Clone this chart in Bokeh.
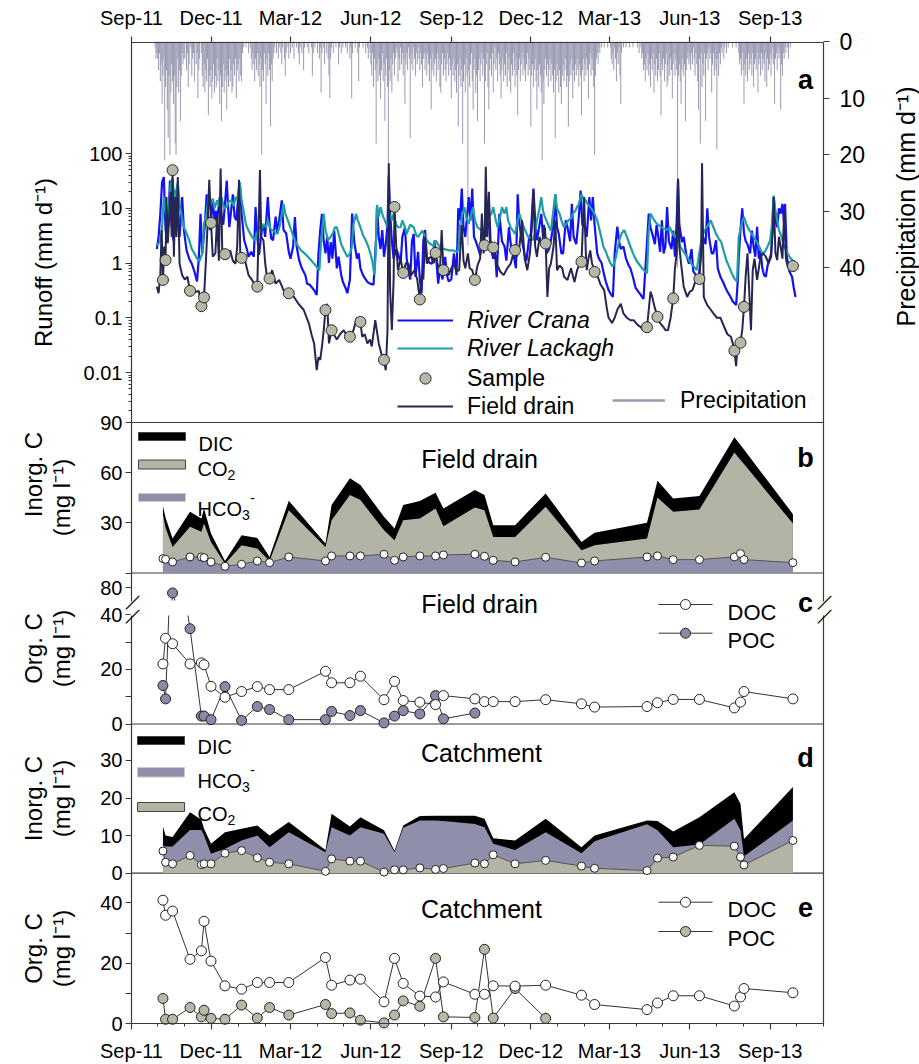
import numpy as np
import pandas as pd
from bokeh.plotting import figure
from bokeh.models import (Range1d, LinearAxis, LogAxis, DatetimeAxis, FixedTicker,
                          DatetimeTickFormatter, CustomJSTickFormatter, LinearScale, LogScale,
                          Legend, LegendItem, Label)
from bokeh.embed import file_html
from bokeh.resources import INLINE

# ======================= DATA =======================
start_date = "2011-09-01"
end_date = "2013-11-01"
quarter_ticks = ["2011-09-01", "2011-12-01", "2012-03-01", "2012-06-01", "2012-09-01",
                 "2012-12-01", "2013-03-01", "2013-06-01", "2013-09-01"]

# daily precipitation (mm d-1) starting 2011-09-01
precip_mm = (
    [0,0,0,0,0,0,0,0,0,0, 0,0,0,0,0,0,0,0,0,0, 0,0,0,0,0,0,0,1,3,2]              # Sep-11
    + [3,5,2,7,4,11,6,3,21,8, 5,12,17,6,20,9,4,7,11,6, 18,20,8,3,9,5,14,6,2,4, 3]  # Oct-11
    + [3,0,5,2,8,4,0,1,6,3, 2,7,0,4,2,10,5,3,0,2, 6,8,4,9,5,7,3,13,6,8]          # Nov-11
    + [5,10,7,4,9,6,8,3,7,5, 11,6,14,8,4,9,7,5,12,6, 8,3,7,5,9,8,4,6,3,10, 5]    # Dec-11
    + [4,7,3,6,7,2,1,0,0,1, 0,0,2,0,1,3,5,2,4,7, 3,5,2,6,4,8,3,20,5,7, 2]        # Jan-12
    + [4,11,3,6,2,5,15,4,7,3, 2,1,0,2,0,3,1,0,2,4, 1,0,3,6,2,0,1,3,0]            # Feb-12
    + [2,0,1,0,3,0,0,1,0,2, 4,1,0,2,0,5,1,0,0,1, 0,2,0,0,1,6,2,0,1,0, 0]         # Mar-12
    + [2,0,3,1,9,2,0,1,4,0, 2,0,3,6,10,3,1,0,2,0, 0,1,0,0,4,1,0,2,0,1]           # Apr-12
    + [0,0,1,0,2,0,0,3,1,10, 2,0,0,1,0,0,2,7,1,0, 0,0,1,0,0,2,0,1,3,0, 2]        # May-12
    + [4,6,2,8,3,5,18,4,7,3, 6,10,5,2,7,4,14,6,3,8, 42,5,7,3,9,4,2,6,3,1]        # Jun-12
    + [2,7,3,5,1,4,2,6,3,11, 4,2,5,1,3,17,4,2,5,1, 3,6,2,4,1,3,5,2,4,8, 3]       # Jul-12
    + [2,5,3,6,2,4,7,3,12,5, 2,6,4,3,7,2,5,3,8,9, 4,2,6,3,5,7,4,2,6,3, 5]        # Aug-12
    + [10,4,6,3,7,5,9,4,15,6, 3,8,5,18,7,4,9,3,6,36, 5,8,4,2,7,12,5,3,9,6]       # Sep-12
    + [14,5,3,7,4,2,6,3,18,7, 4,2,8,12,5,3,6,2,9,4, 1,5,3,7,2,4,6,10,5,3, 7]     # Oct-12
    + [4,6,2,8,5,3,7,9,4,6, 2,5,8,3,6,13,5,3,7,4, 2,6,3,5,7,4,2,6,3,5]           # Nov-12
    + [15,6,4,8,5,3,7,12,5,8, 4,6,9,21,7,11,5,3,6,4, 8,5,3,7,4,6,9,5,17,7, 4]    # Dec-12
    + [6,9,5,8,11,6,4,7,5,3, 8,6,15,7,4,6,3,10,5,7, 4,6,3,5,8,4,6,13,5,3, 7]     # Jan-13
    + [4,6,3,5,10,4,2,6,3,5, 8,20,6,3,2,4,1,2,0,1, 0,0,1,0,0,0,1,0]              # Feb-13
    + [0,1,3,4,2,5,1,3,7,2, 4,1,6,11,2,0,1,0,0,1, 0,0,0,1,0,0,0,1,0,0, 0]        # Mar-13
    + [0,1,0,2,0,1,3,2,5,4, 7,3,5,2,6,4,8,3,5,2, 9,4,6,3,7,5,2,6,13,4]           # Apr-13
    + [5,3,7,4,2,8,7,4,6,3, 5,10,4,2,6,3,5,40,6,4, 7,11,5,3,6,4,14,5,3,2, 4]     # May-13
    + [3,5,2,4,1,3,6,2,4,7, 12,3,18,2,8,4,6,2,14,3, 2,5,1,3,2,9,4,2,6,3]         # Jun-13
    + [5,19,3,6,2,4,1,2,0,3, 1,0,2,0,1,0,0,0,0,1, 0,0,0,1,0,0,2,4,3,6, 2]        # Jul-13
    + [5,11,4,6,3,7,2,5,4,3, 6,2,8,4,3,5,2,9,4,3, 6,2,5,3,4,7,2,8,3,5, 4]        # Aug-13
    + [2,6,3,1,4,11,3,2,5,1, 3,2,12,4,6,2,3,1,2,0, 1,3,0,1,0,0,0,0,0,0]          # Sep-13
)

# runoff (mm d-1): (day since 2011-09-01, value)
crana_pts = [(29,1.8),(31,3),(33,8),(35,30),(37,37),(39,4),(41,2.5),(43,12),(44,32),(46,5),(48,2.6),(50,21),(52,8),(55,3),(58,16),(60,4),(63,1.7),(66,1.2),(69,0.97),(72,0.7),(75,0.46),(77,1.2),(79,7.9),(81,1.5),(84,5),(86,18),(88,6),(90,4),(93,14),(95,6),(97,9),(98,6),(101,16),(103,7),(105,5),(107,12),(109,32),(111,8),(112,4.5),(114,9),(116,18),(118,7),(120,6),(122,15),(124,28),(126,8),(129,2.6),(132,1.8),(134,1.3),(137,1.6),(140,1.3),(142,10.5),(144,3),(146,1.4),(149,4),(151,5),(153,3),(156,16),(158,5),(160,2.8),(162,2.6),(165,7),(167,3.5),(170,8),(172,13.9),(174,4),(177,3.5),(180,1.6),(182,1.2),(185,2),(187,6.9),(189,2),(192,1.1),(195,0.8),(199,0.6),(201,0.42),(204,0.4),(207,0.35),(210,0.3),(212,0.26),(214,1.5),(216,4),(218,7.9),(220,2.5),(222,1.5),(224,3),(226,1.0),(228,2.4),(230,1.2),(232,3.9),(235,0.8),(237,1.3),(240,0.6),(242,0.45),(245,0.35),(247,0.28),(250,0.5),(252.5,8),(255,2.4),(258,1.2),(260,1.5),(262,0.8),(265,0.6),(268,0.5),(270,0.45),(273,0.42),(277,0.4),(280,3),(281,10.6),(283,3),(285,1.8),(287,4),(289,1.3),(291,2.2),(293,5),(294.5,40),(296,8),(298,2.5),(300,1.2),(303,1.8),(305,1.5),(308,1.0),(310,3),(313,4.5),(315,1.2),(317,0.7),(319,0.5),(321,2.5),(323,3.4),(325,0.56),(328,1.6),(330,0.5),(332,0.28),(334,2.5),(336,4),(338,1.3),(341,1.0),(344,0.97),(347,2.6),(349,1.1),(351,0.42),(353,0.8),(356,0.5),(359,1.3),(361,0.6),(363,0.46),(366,0.5),(369,1.5),(372,0.6),(374,10),(376,6),(378,23),(380,4.5),(382,3),(384,7),(386,16),(388,6),(390,23),(392,3),(394,2.5),(397,1.8),(399,1.4),(402,2.6),(404,4.5),(406,3),(408,12),(410,3),(411,2),(414,1.2),(416,1.7),(418,0.55),(421,7.9),(424,2.5),(427,2),(429,1.1),(432,4.5),(435,1.6),(437,1.5),(440,0.8),(442,18),(444,5),(447,2.5),(450,1.4),(452,1.1),(455,2.8),(457,3.4),(460,23),(462,6),(464,2.6),(467,5),(469,7.9),(471,3),(473,4.5),(475,1.5),(478,1.8),(480,2.6),(483,5),(485,18),(487,4.5),(489,3.4),(492,1.5),(494,1.5),(497,6),(499,4.5),(502,2.5),(504,12),(506,3),(509,2.2),(512,7),(514,21),(516,5),(519,4.5),(521,3),(524,16),(526,6),(528,16),(530,5),(533,1.5),(535,1.2),(538,1.0),(541,0.6),(543,0.45),(546,0.32),(548,0.28),(551,0.24),(553,1.5),(556,4.6),(558,2.5),(560,1.8),(563,2.0),(566,1.2),(569,0.9),(571,0.8),(574,0.55),(577,0.35),(580,0.3),(583,0.26),(586,0.22),(589,1.3),(592,8),(594,4.5),(597,3),(599,2.2),(601,5),(603,3),(605,1.6),(607,6),(609,1.5),(611,2),(613,10.5),(615,2.5),(618,1.8),(620,3.9),(622,1.3),(624,6),(625.5,33),(627,5),(630,2.4),(632,3),(635,1.4),(638,0.97),(641,1.8),(643,0.7),(646,0.6),(649,0.5),(652,1.5),(654,3),(657,2.2),(659,10),(661,3),(664,1.5),(666,1.5),(669,2.6),(671,0.8),(674,0.56),(677,0.45),(680,0.35),(682,0.3),(685,0.25),(688,0.2),(692,0.17),(694,0.5),(695,1.3),(697,4),(699,10),(701,3.5),(703,2.5),(705,2.2),(708,1.5),(710,3.9),(712,2),(714,1.3),(716,4.6),(718,1.2),(720,1.7),(722,0.8),(724,0.6),(726,0.56),(728,0.9),(730,1.1),(732,1.3),(735,16),(737,6),(739,4.5),(741,10),(743,8),(745,12),(747,5),(748,12),(750,1.3),(753,0.7),(756,0.56),(758,0.35),(760,0.24)]

lackagh_pts = [(29,2.1),(31,2.3),(33,2.5),(35,4.5),(37,16),(39,8),(41,6),(43,10),(45,28),(47,35),(49,14),(51,20),(53,30),(55,12),(57,7.9),(60,4.5),(63,3.5),(66,2.6),(69,1.8),(72,1.5),(75,1.2),(78,1.1),(81,1.5),(83,5.2),(86,8),(88,16),(90,12),(93,14.9),(95,10),(98,13.9),(100,11),(103,16),(106,10),(109,10.5),(111,13),(114,13.9),(117,11),(119,16),(121,14),(124,30),(126,14),(129,7.9),(131,5),(134,3.9),(138,3),(141,2.6),(144,3.5),(146,4.5),(149,4.2),(151,5.2),(154,4.5),(156,6),(159,4.2),(162,3.9),(165,3.6),(167,3.4),(170,5),(172,8),(174,12),(176,8),(179,6),(183,3.9),(187,2.6),(190,2.1),(194,1.7),(198,1.5),(202,1.3),(206,1.1),(209,0.97),(212,0.85),(215,0.73),(217,2.5),(220,7.9),(222,4),(225,2.6),(228,3),(230,3.4),(233,4.5),(235,4.5),(238,3),(240,2.2),(244,1.6),(247,1.3),(250,1.5),(252,1.9),(254,5),(257,7.9),(259,6),(262,4.5),(265,3.2),(268,2.6),(271,2),(274,1.4),(276,1.0),(278,0.6),(279.5,1.5),(281,11.5),(283,7),(285,10.5),(288,7),(290,6),(293,4.5),(295,8),(298,6),(300,7.9),(303,5),(305,4.5),(308,4.5),(310,6),(313,4.5),(315,3.4),(319,5),(323,4.5),(326,3.2),(328,3.0),(331,3.5),(333,3.9),(336,3.0),(338,2.6),(341,2.3),(343,2.2),(346,2.0),(348,2.6),(351,2.2),(353,1.9),(358,1.8),(363,1.7),(368,1.7),(372,1.6),(374,1.7),(376,4.5),(378,7),(381,10.5),(383,7),(386,5.2),(388,7),(391,10.5),(393,6),(396,4.5),(400,4),(404,4.5),(407,5.5),(409,7),(412,8),(414,10.5),(417,6),(419,4.5),(422,7),(424,10.5),(427,8),(429,10.5),(431,6),(434,4.5),(437,3.8),(439,3.4),(442,6),(444,7.9),(447,5.5),(449,4.5),(452,3.5),(454,3.0),(457,2.8),(459,2.6),(462,3.5),(464,6),(467,10),(469,16),(471,9),(473,7),(475,6),(478,4.5),(480,3.9),(482,7),(485,18),(487,10),(490,7.9),(492,6),(495,4.5),(497,5),(500,6),(503,6.5),(505,7.9),(508,9),(510,10.5),(512,12),(515,18),(517,15),(520,13.9),(522,12),(525,10.5),(528,9),(530,7.9),(533,6),(535,4.5),(538,2.8),(540,2.0),(543,1.6),(545,1.3),(548,1.0),(551,0.85),(554,1.2),(558,2.5),(561,3.5),(564,4),(567,3),(570,2.2),(574,1.5),(578,1.1),(582,0.9),(586,0.75),(590,0.65),(592,4),(594,8),(597,6.5),(600,5.5),(603,5),(606,4.5),(610,4.2),(613,4),(616,4.5),(619,3.5),(622,3),(625,3.4),(628,2.0),(632,1.6),(636,1.3),(640,1.0),(644,0.85),(647,0.74),(650,1.6),(653,3),(656,4),(660,5),(663,6),(666,4.5),(669,3.4),(672,2.8),(675,2.4),(678,1.6),(681,1.1),(684,0.85),(687,0.65),(690,0.52),(693,0.46),(695,3),(698,5),(701,7),(704,5),(707,4),(710,3.4),(713,2.8),(716,2.4),(719,1.9),(722,1.5),(725,1.6),(728,2),(731,2.6),(733,5),(735,17),(737,9),(739,6),(741,4),(744,3),(747,2),(750,1.6),(753,1.3),(757,1.1)]

drain_pts = [(29,0.37),(31,0.28),(33,0.6),(34.5,4),(36,0.49),(37.5,2),(39,1.13),(40,16),(41.5,2.3),(43,6),(44.5,20),(46,3),(47,49.6),(48.5,1.3),(50,16),(51.5,3),(53,37),(55,0.97),(58,0.6),(61,0.5),(64,0.56),(67,0.31),(71,0.28),(74,0.3),(77,0.31),(80,0.163),(83,0.235),(85,0.97),(87,4.6),(89,33),(91,5.4),(93,1.3),(96,1.5),(98,7),(100,1.1),(102,53),(104,1.3),(107,1.45),(110,1.2),(113,1.7),(116,1.1),(119,0.97),(121,2),(123,33),(124.5,1.5),(126,1.24),(130,1.1),(134,0.6),(138,0.49),(142,0.37),(144,0.37),(147,50),(148.5,3),(151,2.6),(153,1),(155,0.56),(158,0.52),(161,0.74),(165,0.42),(169,0.49),(174,0.32),(180,0.28),(186,0.24),(191,0.18),(197,0.14),(203,0.079),(206,0.05),(209,0.034),(212,0.011),(214,0.019),(216,0.017),(218,0.03),(220,0.059),(222,0.138),(224,0.18),(226,0.034),(229,0.059),(231,0.051),(235,0.04),(239,0.051),(243,0.059),(247,0.045),(250,0.045),(254,0.059),(258,0.1),(262,0.084),(264,0.045),(267,0.05),(270,0.034),(273,0.04),(275,0.03),(279,0.09),(283,0.034),(287,0.019),(289,0.017),(291,0.011),(293,0.059),(294.5,66),(296,0.3),(298,0.06),(300,0.5),(301,10.6),(303,2),(305,0.74),(308,1.2),(311,0.66),(314,1.0),(317,0.97),(320,0.6),(324,0.74),(327,0.5),(330,0.216),(332,0.6),(334,0.5),(336,3),(338,0.97),(340,1.2),(343,1.3),(346,1.0),(348,1.53),(350,1.0),(353,0.7),(355,4),(357,0.74),(360,0.7),(363,0.6),(366,0.8),(369,0.97),(372,0.7),(375,0.74),(378,5),(380,1.1),(382,0.8),(385,1.5),(387,0.8),(390,0.74),(393,0.49),(396,0.9),(399,1.2),(401,8),(403,1.5),(404,2.1),(405.5,57),(407,3),(409,20),(411,2.5),(414,1.92),(418,0.97),(422,0.7),(426,0.6),(430,0.8),(434,0.97),(437,1.5),(439,1.72),(441,1.3),(444,2),(447,6),(450,1.2),(453,0.74),(456,1.5),(458,4),(460,21),(462,2),(464,1.3),(467,3),(470,2),(472,5),(474,2.27),(476,0.24),(478,0.8),(480,0.97),(483,2),(485,6),(487,0.74),(490,0.9),(493,0.8),(495,0.56),(499,0.49),(503,0.8),(507,0.45),(510,0.74),(513,0.97),(515,1.05),(518,16),(520,1.5),(521,0.74),(523,1.2),(525,1.7),(527,1.0),(530,0.69),(533,0.6),(537,0.4),(541,0.32),(544,0.15),(546,0.1),(550,0.08),(553,0.1),(556,0.14),(560,0.18),(563,0.12),(567,0.1),(571,0.09),(575,0.09),(579,0.075),(583,0.067),(586,0.059),(590,0.067),(592,0.14),(594,0.3),(596,0.24),(599,0.15),(602,0.104),(605,0.08),(608,0.07),(611,0.06),(614,0.059),(617,0.1),(620,0.225),(622,0.8),(624,1.5),(625.5,35),(627,2),(629,0.97),(632,0.37),(636,0.24),(639,0.3),(642,0.32),(646,0.49),(650,0.51),(652,2),(653,66),(655,0.24),(657,0.2),(659,0.17),(663,0.14),(666,0.12),(670,0.1),(674,0.1),(678,0.07),(682,0.05),(686,0.045),(688,0.035),(690,0.025),(692,0.013),(694,0.04),(697,0.035),(699,0.06),(701,0.158),(703,0.6),(705,1.5),(707,0.3),(709,0.059),(711,0.74),(713,1.2),(716,0.49),(718,0.8),(720,1.3),(723,1.5),(726,1.3),(729,1.0),(732,1.5),(734,4),(735,16),(737,1.5),(739,1.13),(741,3),(743,1.97),(745,1.2),(747,9),(749,1.2),(751,0.85),(754,0.74),(757,0.88)]

# sampling campaign
sample_dates = ["2011-10-07","2011-10-10","2011-10-18","2011-11-07","2011-11-20","2011-11-23",
                "2011-12-01","2011-12-17","2012-01-05","2012-01-23","2012-02-06","2012-02-28",
                "2012-04-10","2012-04-17","2012-05-08","2012-05-20","2012-06-16","2012-06-28",
                "2012-07-08","2012-07-27","2012-08-14","2012-08-23","2012-09-28","2012-10-09",
                "2012-10-19","2012-11-13","2012-12-18","2013-01-28","2013-02-12","2013-04-13",
                "2013-04-25","2013-05-13","2013-06-12","2013-07-22","2013-07-29","2013-08-02",
                "2013-09-27"]
sample_runoff = [0.49,1.13,49.6,0.31,0.163,0.235,5.4,1.45,1.24,0.37,0.52,0.28,0.138,0.059,0.045,
                 0.084,0.017,10.6,0.66,0.216,1.53,0.74,0.49,2.1,1.92,1.72,2.27,1.05,0.69,0.067,
                 0.104,0.225,0.51,0.025,0.035,0.158,0.88]

# (b) field drain inorganic C (mg l-1)
fd_hco3 = [8.6,8.2,6.6,9.6,9.6,9.2,6.6,4.0,5.2,7.2,6.2,9.6,7.2,10.2,10.2,10.2,11.2,7.6,9.6,10.2,
           10.2,10.8,11.2,10.0,7.6,6.6,9.4,6.0,7.2,9.6,10.2,8.0,8.0,9.6,11.6,8.0,6.2]
fd_co2 = [26.4,18.8,9.0,18.0,15.0,20.4,12.0,1.6,11.4,7.4,1.0,28.0,8.4,21.4,36.4,33.4,14.4,12.0,22.0,
          22.4,28.4,17.2,28.0,27.6,14.0,15.0,30.2,7.6,9.4,11.0,35.0,28.6,30.0,62.4,56.0,57.2,23.4]
fd_dic = [40,33,20.6,36.6,32.6,38.6,23.6,7.2,22.6,21,9.5,43.2,17.6,40.6,56.6,52.6,33.6,26.6,40.6,43,
          48,38.6,49.6,46.6,28.6,28.6,47.6,18.6,24,30,55.2,44.6,46,81.2,76.5,73.8,35.2]

# (c) field drain organic C (mg l-1)
fd_doc = [22.0,31.4,29.4,22.0,22.4,21.7,13.8,9.8,11.9,13.7,12.6,12.6,19.3,15.1,15.1,17.5,8.9,15.6,
          8.6,8.0,7.1,10.4,9.2,8.2,8.2,8.2,8.9,7.4,6.2,6.4,7.8,9.0,9.0,5.9,8.0,11.9,9.2]
fd_poc = [14.1,9.2,76,34.9,2.9,2.9,1.6,13.7,1.3,6.4,5.3,1.6,1.6,4.6,3.1,4.9,0.4,2.9,4.9,3.7,10.4,1.9,4.0]

# (d) catchment inorganic C (mg l-1)
c_co2 = [5.9,2.9,2.5,4.7,2.3,2.5,2.5,5.3,6.0,4.1,2.9,2.5,0.5,3.8,3.2,3.2,0.3,0.9,0.9,1.4,1.0,1.25,
         2.7,2.5,4.9,2.5,3.4,1.9,1.3,0.7,4.0,4.3,7.4,7.2,4.3,2.2,8.7]
c_hco3 = [1.5,4.2,4.6,6.8,9.2,7.5,2.7,1.2,2.7,5.9,4.0,8.4,5.1,8.4,6.8,9.0,10.2,4.7,11.2,12.6,13.0,
          12.6,10.4,9.7,2.9,3.7,7.5,3.4,7.2,12.3,7.4,2.6,0.2,7.3,7.1,2.3,5.3]
c_dic = [12.4,10,9.6,16.2,14.2,11.8,7.8,10.9,11.8,12.7,10,13.6,6.2,15.8,12.4,14.9,11.4,6.0,12.7,15.2,
         15.3,15.3,15.3,14.5,9.3,8.7,14.5,6.9,10,14,13.9,11.1,14.9,21.5,18.5,9.1,22.9]

# (e) catchment organic C (mg l-1)
c_doc = [40.9,35.9,37.3,21.3,24.1,33.9,20.7,12.5,11.4,13.6,13.6,13.6,21.9,12.7,14.4,14.7,7.2,21.6,
         13.3,9.1,8.8,13.8,9.7,9.7,12.5,12.4,12.7,9.4,6.3,4.6,6.8,9.2,9.2,5.8,8.8,11.6,10.2]
c_poc = [8.3,1.4,1.4,5.3,2.2,4.4,1.7,1.4,6.1,1.8,5.3,2.8,6.3,3.3,3.5,1.1,0.2,2.8,7.5,5.7,21.6,2.2,
         2.0,24.6,1.8,11.6,1.7]

# ======================= STYLE / GEOMETRY =======================
FONT = "Liberation Sans"
AXC = "#3a3a3a"
C_CRANA = "#1212f2"
C_LACK = "#1f9ea6"
C_DRAIN = "#262652"
C_PREC = "#9a9ab2"
C_GRAY = "#b3b3a6"
C_PURP = "#8f8fab"
C_POCF = "#8a8aa6"
C_POCC = "#b8b8a8"
LINEC = "#333333"

W, H = 919, 1064
MS_DAY = 86400000.0
START_MS = pd.Timestamp(start_date).value / 1e6
END_MS = pd.Timestamp(end_date).value / 1e6
FRAME_L, FRAME_R = 131, 823          # plot-box left/right (page px)
TOP, BOT = 42, 1023                  # plot-box top/bottom (page px)


def days_ms(d):
    return START_MS + np.asarray(d, dtype=float) * MS_DAY


def date_ms(s):
    return pd.Timestamp(s).value / 1e6


def px_x(px):
    return START_MS + (px - FRAME_L) / (FRAME_R - FRAME_L) * (END_MS - START_MS)


# page-pixel -> panel value (layout of the stacked panels)
def ya(py): return 10 ** (2 + (153.0 - py) / 54.75)
def yp(py): return (py - 41.3) / 5.65
def yb(py): return (572.5 - py) / 1.6722
def yc(py): return (723.5 - py) / 2.73
def yd(py): return (872.7 - py) / 3.76
def ye(py): return (1023.0 - py) / 3.015


p = figure(width=W, height=H, x_range=Range1d(px_x(0), px_x(W)),
           y_range=Range1d(start=H, end=0),   # default range = page pixels (layout only)
           x_axis_type="datetime", x_axis_location=None, y_axis_location=None,
           output_backend="svg", toolbar_location=None, min_border=0,
           outline_line_color=None, background_fill_color="white", border_fill_color="white")
for g in p.grid:
    g.visible = False

p.extra_y_ranges = {
    "a": Range1d(ya(H), ya(0)),
    "prec": Range1d(start=yp(H), end=yp(0)),
    "b": Range1d(yb(H), yb(0)),
    "c": Range1d(yc(H), yc(0)),
    "d": Range1d(yd(H), yd(0)),
    "e": Range1d(ye(H), ye(0)),
}
p.extra_y_scales = {"a": LogScale(), "prec": LinearScale(), "b": LinearScale(),
                    "c": LinearScale(), "d": LinearScale(), "e": LinearScale()}

q_ms = [date_ms(s) for s in quarter_ticks]
m_ms = [date_ms(s) for s in pd.date_range(start_date, end_date, freq="MS")]
fmt_str = "%b-%y"
xfmt = DatetimeTickFormatter(microseconds=fmt_str, milliseconds=fmt_str, seconds=fmt_str,
                             minsec=fmt_str, minutes=fmt_str, hourmin=fmt_str, hours=fmt_str,
                             days=fmt_str, months=fmt_str, years=fmt_str)


def style_axis(ax, size="20px", standoff=3):
    ax.axis_line_color = AXC
    ax.axis_line_width = 1.2
    ax.major_tick_line_color = AXC
    ax.major_tick_line_width = 1.2
    ax.minor_tick_line_color = AXC
    ax.major_tick_in = 0
    ax.major_tick_out = 6
    ax.minor_tick_in = 0
    ax.minor_tick_out = 3
    ax.major_label_text_font = FONT
    ax.major_label_text_font_size = size
    ax.major_label_text_color = "black"
    ax.major_label_standoff = standoff


def frame_line(side, xfix):
    ax = LinearAxis(ticker=FixedTicker(ticks=[]), fixed_location=xfix, bounds=(TOP, BOT))
    style_axis(ax)
    ax.major_label_text_font_size = "0px"
    ax.major_tick_line_color = None
    ax.minor_tick_line_color = None
    p.add_layout(ax, side)


def left_axis(rname, ticks, overrides=None, minor=None, log=False):
    cls = LogAxis if log else LinearAxis
    ax = cls(y_range_name=rname, ticker=FixedTicker(ticks=ticks, minor_ticks=minor or []),
             fixed_location=px_x(FRAME_L))
    if log:
        ax.formatter = CustomJSTickFormatter(code="return tick.toString();")
    if overrides:
        ax.major_label_overrides = overrides
    style_axis(ax)
    ax.axis_line_color = None
    p.add_layout(ax, "left")


def txt(px, py, s, size, align="left", bold=False, italic=False, angle=0.0,
        baseline="alphabetic", bg=None):
    style = "bold" if bold else ("italic" if italic else "normal")
    lab = Label(x=px_x(px), y=py, text=s, text_font=FONT, text_font_size=f"{size}px",
                text_font_style=style, text_align=align, text_baseline=baseline,
                text_color="black", angle=angle)
    if bg:
        lab.background_fill_color = bg
    p.add_layout(lab)


def chem(px, base_py, main, sub, sup=None, size=20):
    widths = {"C": 0.722, "O": 0.778, "H": 0.722}
    w = sum(widths[c] for c in main) * size
    txt(px, base_py, main, size)
    txt(px + w, base_py + 6, sub, 14)
    if sup:
        txt(px + w + 8, base_py - 11, sup, 15)


def box(x0, x1, ytop, ybot, fill, line):
    p.quad(left=[px_x(x0)], right=[px_x(x1)], top=[ytop], bottom=[ybot],
           fill_color=fill, line_color=line, line_width=1)


def ytitle(px, py, s, size=24):
    txt(px, py, s, size, align="center", angle=np.pi / 2, baseline="middle")


sx = [date_ms(s) for s in sample_dates]

# ---- plot box and panel separators ----
frame_line("left", px_x(FRAME_L))
frame_line("right", px_x(FRAME_R))
sep_y = [422, 572.5, 723.5, 872.7]
p.segment(x0=[px_x(FRAME_L)] * 4, x1=[px_x(FRAME_R)] * 4, y0=sep_y, y1=sep_y,
          line_color=AXC, line_width=1.2)

tax = DatetimeAxis(ticker=FixedTicker(ticks=q_ms), formatter=xfmt, fixed_location=TOP,
                   bounds=(START_MS, END_MS))
style_axis(tax, standoff=8)
tax.minor_tick_line_color = None
p.add_layout(tax, "above")

bax = DatetimeAxis(ticker=FixedTicker(ticks=q_ms, minor_ticks=m_ms), formatter=xfmt,
                   fixed_location=BOT, bounds=(START_MS, END_MS))
style_axis(bax, standoff=10)
p.add_layout(bax, "below")

# ======================= PANEL a =======================
pr = np.array(precip_mm, dtype=float)
pdays = np.arange(len(pr))
mask = pr > 0
p.segment(x0=days_ms(pdays[mask]), y0=0, x1=days_ms(pdays[mask]), y1=pr[mask],
          y_range_name="prec", line_color=C_PREC, line_width=1)
# legend-only renderer (outside the visible page)
r_prec_leg = p.line(x=[px_x(2000), px_x(2010)], y=[10, 10], y_range_name="prec",
                    line_color=C_PREC, line_width=2.5)

cd, cq = zip(*crana_pts)
ld, lq = zip(*lackagh_pts)
dd, dq = zip(*drain_pts)
r_cr = p.line(days_ms(cd), list(cq), y_range_name="a", line_color=C_CRANA, line_width=2.2)
r_la = p.line(days_ms(ld), list(lq), y_range_name="a", line_color=C_LACK, line_width=2.2)
r_dr = p.line(days_ms(dd), list(dq), y_range_name="a", line_color=C_DRAIN, line_width=2.0)
r_sa = p.scatter(sx, sample_runoff, y_range_name="a", size=11, fill_color=C_POCC,
                 line_color="#2a2a2a", line_width=1)

minor_log = [k * 10.0 ** n for n in range(-3, 2) for k in range(2, 10)]
left_axis("a", [0.01, 0.1, 1, 10, 100], minor=minor_log, log=True)

rax = LinearAxis(y_range_name="prec", ticker=FixedTicker(ticks=[0, 10, 20, 30, 40]),
                 fixed_location=px_x(FRAME_R))
style_axis(rax, size="23px", standoff=10)
rax.axis_line_color = None
p.add_layout(rax, "right")

leg_kw = dict(border_line_color=None, background_fill_alpha=0, padding=0, margin=0, spacing=0,
              glyph_height=28, label_height=28, label_text_font=FONT,
              label_text_font_size="23px", label_text_color="black")
leg1 = Legend(items=[LegendItem(label="River Crana", renderers=[r_cr]),
                     LegendItem(label="River Lackagh", renderers=[r_la])],
              location=(397, H - 362), glyph_width=56, label_standoff=14,
              label_text_font_style="italic", **leg_kw)
leg2 = Legend(items=[LegendItem(label="Sample", renderers=[r_sa]),
                     LegendItem(label="Field drain", renderers=[r_dr])],
              location=(397, H - 420), glyph_width=56, label_standoff=14, **leg_kw)
leg3 = Legend(items=[LegendItem(label="Precipitation", renderers=[r_prec_leg])],
              location=(612, H - 414), glyph_width=53, label_standoff=15, **leg_kw)
for lg in (leg1, leg2, leg3):
    p.add_layout(lg)
txt(805, 79, "a", 27, align="center", bold=True)
ytitle(43, 262, "Runoff (mm d\u207b\u00b9)")
ytitle(905, 206, "Precipitation (mm d\u207b\u00b9)", size=25)

# ======================= PANEL b =======================
p.varea(x=sx, y1=0, y2=fd_dic, y_range_name="b", fill_color="black")
p.varea(x=sx, y1=0, y2=list(np.add(fd_hco3, fd_co2)), y_range_name="b", fill_color=C_GRAY)
p.varea(x=sx, y1=0, y2=fd_hco3, y_range_name="b", fill_color=C_PURP)
p.line(sx, fd_hco3, y_range_name="b", line_color="#555555", line_width=1)
p.scatter(sx, fd_hco3, y_range_name="b", size=8, fill_color="white", line_color="#222222",
          line_width=1)
left_axis("b", [0, 30, 60, 90], overrides={0: ""})
box(138, 185, 432, 440, "black", "#444444")
box(138, 185, 459.5, 468.5, C_GRAY, "#444444")
box(138, 185, 493, 501, C_PURP, "#c8c8c8")
txt(198, 443, "DIC", 20)
chem(197, 468, "CO", "2")
chem(197, 508, "HCO", "3", "-")
txt(479, 458, "Field drain", 25, align="center")
txt(805, 457, "b", 27, align="center", bold=True)
ytitle(33, 474, "Inorg. C")
ytitle(61, 497, "(mg l\u207b\u00b9)")

# ======================= PANEL c =======================
n_poc = len(fd_poc)
lo_lim = yc(615)          # lower segment ends here (axis break)


def upper(v):             # upper (broken) part of the axis: 80 plotted at 50
    return 50.0 + (v - 80.0) * 0.5


x0s, y0s, x1s, y1s = [], [], [], []
for i in range(n_poc - 1):
    xa_, va, xb_, vb = sx[i], fd_poc[i], sx[i + 1], fd_poc[i + 1]
    if va <= lo_lim and vb <= lo_lim:
        x0s += [xa_]; y0s += [va]; x1s += [xb_]; y1s += [vb]
    elif va <= lo_lim < vb:
        f = (lo_lim - va) / (vb - va)
        x0s += [xa_]; y0s += [va]; x1s += [xa_ + f * (xb_ - xa_)]; y1s += [lo_lim]
    elif vb <= lo_lim < va:
        f = (lo_lim - vb) / (va - vb)
        x0s += [xb_]; y0s += [vb]; x1s += [xb_ + f * (xa_ - xb_)]; y1s += [lo_lim]
p.segment(x0=x0s, y0=y0s, x1=x1s, y1=y1s, y_range_name="c", line_color=LINEC, line_width=1)
i3 = int(np.argmax(fd_poc))
y_hi = yc(600)
for nb in (i3 - 1, i3 + 1):
    y3, ynb = upper(fd_poc[i3]), upper(fd_poc[nb])
    f = (y3 - y_hi) / (y3 - ynb)
    p.line([sx[i3], sx[i3] + f * (sx[nb] - sx[i3])], [y3, y_hi], y_range_name="c",
           line_color=LINEC, line_width=1)
p.line(sx, fd_doc, y_range_name="c", line_color=LINEC, line_width=1)
poc_plot = [upper(v) if v > lo_lim else v for v in fd_poc]
p.scatter(sx[:n_poc], poc_plot, y_range_name="c", size=10, fill_color=C_POCF,
          line_color="#222222", line_width=1)
p.scatter(sx, fd_doc, y_range_name="c", size=10, fill_color="white", line_color="#222222",
          line_width=1)
left_axis("c", [0, 10, 20, 30, 40, 50], overrides={10: "", 30: "", 50: "80"})
for xb in (FRAME_L, FRAME_R):
    txt(xb, 608, "\u2009", 12, align="center", baseline="middle", bg="white")
    for yy in (601, 615):
        txt(xb, yy, "\u2014", 19, align="center", angle=0.785, baseline="middle")
p.line([px_x(658), px_x(712)], [604, 604], line_color=LINEC, line_width=1)
p.scatter([px_x(685)], [604], size=10, fill_color="white", line_color="#222222")
p.line([px_x(658), px_x(712)], [632.7, 632.7], line_color=LINEC, line_width=1)
p.scatter([px_x(685)], [632.7], size=10, fill_color=C_POCF, line_color="#222222")
txt(727, 611.7, "DOC", 22)
txt(727, 640, "POC", 22)
txt(479, 603, "Field drain", 25, align="center")
txt(805, 602, "c", 27, align="center", bold=True)
ytitle(33, 648, "Org. C")
ytitle(61, 648, "(mg l\u207b\u00b9)")

# ======================= PANEL d =======================
p.varea(x=sx, y1=0, y2=c_dic, y_range_name="d", fill_color="black")
p.varea(x=sx, y1=0, y2=list(np.add(c_co2, c_hco3)), y_range_name="d", fill_color=C_PURP)
p.varea(x=sx, y1=0, y2=c_co2, y_range_name="d", fill_color=C_GRAY)
p.line(sx, c_co2, y_range_name="d", line_color="#555555", line_width=1)
p.scatter(sx, c_co2, y_range_name="d", size=8, fill_color="white", line_color="#222222",
          line_width=1)
left_axis("d", [0, 10, 20, 30])
box(137, 184, 736, 744, "black", "#444444")
box(137, 184, 767, 776.5, C_PURP, "#c8c8c8")
box(137, 184, 802, 811, C_GRAY, "#444444")
txt(197, 746.7, "DIC", 20)
chem(197, 780, "HCO", "3", "-")
chem(197, 813, "CO", "2")
txt(481, 752, "Catchment", 25, align="center")
txt(805, 757, "d", 27, align="center", bold=True)
ytitle(33, 798, "Inorg. C")
ytitle(61, 798, "(mg l\u207b\u00b9)")

# ======================= PANEL e =======================
n_pc = len(c_poc)
p.line(sx, c_doc, y_range_name="e", line_color=LINEC, line_width=1)
p.line(sx[:n_pc], c_poc, y_range_name="e", line_color=LINEC, line_width=1)
p.scatter(sx[:n_pc], c_poc, y_range_name="e", size=10, fill_color=C_POCC,
          line_color="#222222", line_width=1)
p.scatter(sx, c_doc, y_range_name="e", size=10, fill_color="white", line_color="#222222",
          line_width=1)
left_axis("e", [0, 10, 20, 30, 40], overrides={10: "", 30: ""})
p.line([px_x(658), px_x(712)], [901.7, 901.7], line_color=LINEC, line_width=1)
p.scatter([px_x(685)], [901.7], size=10, fill_color="white", line_color="#222222")
p.line([px_x(658), px_x(712)], [931, 931], line_color=LINEC, line_width=1)
p.scatter([px_x(685)], [931], size=10, fill_color=C_POCC, line_color="#222222")
txt(727, 909, "DOC", 22)
txt(727, 938, "POC", 22)
txt(481, 908, "Catchment", 25, align="center")
txt(805, 907, "e", 27, align="center", bold=True)
ytitle(33, 948, "Org. C")
ytitle(61, 948, "(mg l\u207b\u00b9)")

open("out.html", "w").write(file_html(p, INLINE))
